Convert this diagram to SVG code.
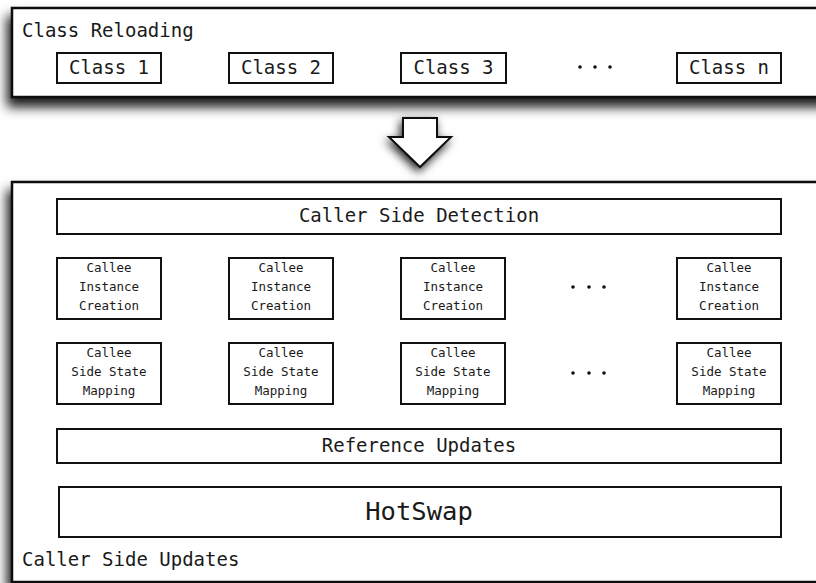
<svg xmlns="http://www.w3.org/2000/svg" width="816" height="583" viewBox="0 0 816 583">
  <defs>
    <filter id="panelShadow" x="-10%" y="-30%" width="120%" height="160%">
      <feGaussianBlur in="SourceAlpha" stdDeviation="6"/>
      <feOffset dx="-4" dy="9" result="blur"/>
      <feFlood flood-color="#000" flood-opacity="0.9"/>
      <feComposite in2="blur" operator="in"/>
      <feMerge>
        <feMergeNode/>
        <feMergeNode in="SourceGraphic"/>
      </feMerge>
    </filter>
    <filter id="arrowShadow" x="-50%" y="-50%" width="200%" height="200%">
      <feGaussianBlur in="SourceAlpha" stdDeviation="5"/>
      <feOffset dx="-2" dy="4" result="blur"/>
      <feFlood flood-color="#000" flood-opacity="0.85"/>
      <feComposite in2="blur" operator="in"/>
      <feMerge>
        <feMergeNode/>
        <feMergeNode in="SourceGraphic"/>
      </feMerge>
    </filter>
    <style>
      .panel { fill: #fff; stroke: #111; stroke-width: 2.5; }
      .box { fill: #fff; stroke: #111; stroke-width: 2; }
      .t { font-family: "DejaVu Sans Mono", "Liberation Mono", monospace; fill: #1a1a1a; }
      .lg { font-size: 19px; }
      .sm { font-size: 12.5px; text-anchor: middle; }
      .md { font-size: 19px; text-anchor: middle; }
      .xl { font-size: 25.5px; text-anchor: middle; }
      .dot { fill: #111; }
    </style>
  </defs>

  <rect width="816" height="583" fill="#fff"/>

  <!-- Class reloading panel -->
  <g id="class-reloading">
    <rect class="panel" x="12" y="8" width="820" height="89" filter="url(#panelShadow)"/>
    <text class="t lg" x="22" y="37">Class Reloading</text>
    <g id="class-1"><rect class="box" x="57" y="53" width="104" height="30"/><text class="t md" x="109" y="74">Class 1</text></g>
    <g id="class-2"><rect class="box" x="229" y="53" width="104" height="30"/><text class="t md" x="281" y="74">Class 2</text></g>
    <g id="class-3"><rect class="box" x="401" y="53" width="105" height="30"/><text class="t md" x="453.5" y="74">Class 3</text></g>
    <g id="class-dots"><circle class="dot" cx="580" cy="67" r="1.8"/><circle class="dot" cx="595" cy="67" r="1.8"/><circle class="dot" cx="610" cy="67" r="1.8"/></g>
    <g id="class-n"><rect class="box" x="677" y="53" width="104" height="30"/><text class="t md" x="729" y="74">Class n</text></g>
  </g>

  <!-- Transition arrow -->
  <g id="connectors">
    <path d="M403 118 L437 118 L437 137 L451 137 L420 167 L389 137 L403 137 Z" fill="#fff" stroke="#111" stroke-width="2" stroke-linejoin="miter" filter="url(#arrowShadow)"/>
  </g>

  <!-- Caller side updates panel -->
  <g id="caller-side-updates">
    <rect class="panel" x="12" y="182" width="820" height="400" filter="url(#panelShadow)"/>
    <text class="t lg" x="22" y="566">Caller Side Updates</text>
  </g>

  <g id="caller-side-detection">
    <rect class="box" x="57" y="199" width="724" height="35"/>
    <text class="t md" x="419" y="222">Caller Side Detection</text>
  </g>

  <g id="instance-creation-1">
    <rect class="box" x="57" y="258" width="104" height="61"/>
    <text class="t sm" x="109" y="272">Callee</text><text class="t sm" x="109" y="291">Instance</text><text class="t sm" x="109" y="310">Creation</text>
  </g>
  <g id="instance-creation-2">
    <rect class="box" x="229" y="258" width="104" height="61"/>
    <text class="t sm" x="281" y="272">Callee</text><text class="t sm" x="281" y="291">Instance</text><text class="t sm" x="281" y="310">Creation</text>
  </g>
  <g id="instance-creation-3">
    <rect class="box" x="401" y="258" width="104" height="61"/>
    <text class="t sm" x="453" y="272">Callee</text><text class="t sm" x="453" y="291">Instance</text><text class="t sm" x="453" y="310">Creation</text>
  </g>
  <g id="instance-dots"><circle class="dot" cx="573" cy="287" r="1.8"/><circle class="dot" cx="589" cy="287" r="1.8"/><circle class="dot" cx="604" cy="287" r="1.8"/></g>
  <g id="instance-creation-n">
    <rect class="box" x="677" y="258" width="104" height="61"/>
    <text class="t sm" x="729" y="272">Callee</text><text class="t sm" x="729" y="291">Instance</text><text class="t sm" x="729" y="310">Creation</text>
  </g>

  <g id="state-mapping-1">
    <rect class="box" x="57" y="343" width="104" height="61"/>
    <text class="t sm" x="109" y="357">Callee</text><text class="t sm" x="109" y="376">Side State</text><text class="t sm" x="109" y="395">Mapping</text>
  </g>
  <g id="state-mapping-2">
    <rect class="box" x="229" y="343" width="104" height="61"/>
    <text class="t sm" x="281" y="357">Callee</text><text class="t sm" x="281" y="376">Side State</text><text class="t sm" x="281" y="395">Mapping</text>
  </g>
  <g id="state-mapping-3">
    <rect class="box" x="401" y="343" width="104" height="61"/>
    <text class="t sm" x="453" y="357">Callee</text><text class="t sm" x="453" y="376">Side State</text><text class="t sm" x="453" y="395">Mapping</text>
  </g>
  <g id="mapping-dots"><circle class="dot" cx="573" cy="373" r="1.8"/><circle class="dot" cx="589" cy="373" r="1.8"/><circle class="dot" cx="604" cy="373" r="1.8"/></g>
  <g id="state-mapping-n">
    <rect class="box" x="677" y="343" width="104" height="61"/>
    <text class="t sm" x="729" y="357">Callee</text><text class="t sm" x="729" y="376">Side State</text><text class="t sm" x="729" y="395">Mapping</text>
  </g>

  <g id="reference-updates">
    <rect class="box" x="57" y="429" width="724" height="34"/>
    <text class="t md" x="419" y="452">Reference Updates</text>
  </g>

  <g id="hotswap">
    <rect class="box" x="59" y="487" width="722" height="50"/>
    <text class="t xl" x="419" y="520">HotSwap</text>
  </g>
</svg>
